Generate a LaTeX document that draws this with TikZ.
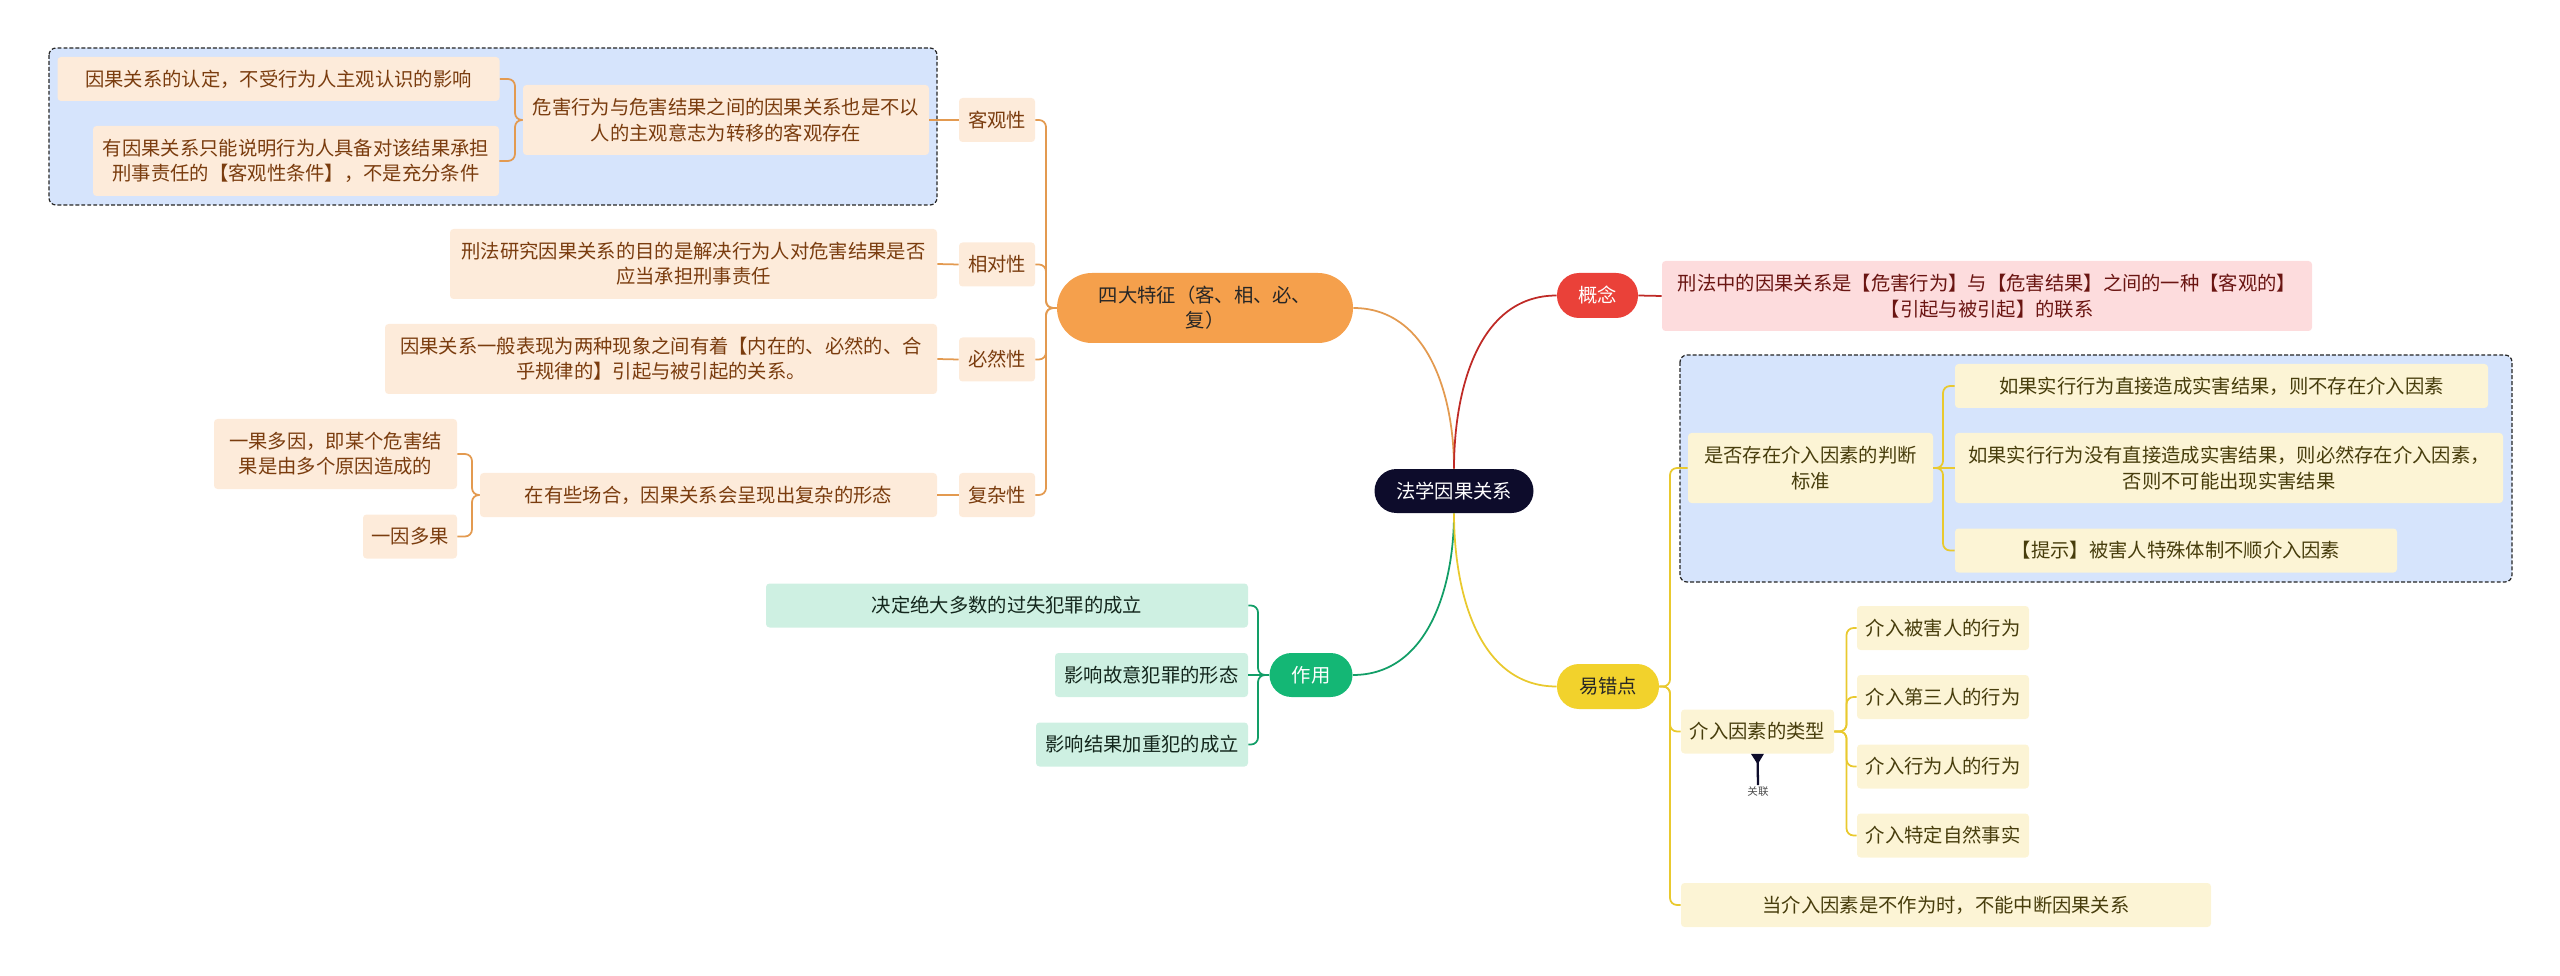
\documentclass[tikz,border=0pt]{standalone}
\usepackage{fontspec}
\setmainfont{Noto Sans CJK SC}
\usepackage{tikz}
\usetikzlibrary{arrows.meta,positioning}
\usepackage{xcolor}
\definecolor{rootnavy}{HTML}{0D0C2B}
\definecolor{tzorange}{HTML}{F5A04C}
\definecolor{tzline}{HTML}{E39A50}
\definecolor{peachbg}{HTML}{FDEBDA}
\definecolor{peachtext}{HTML}{7A3C0E}
\definecolor{gnred}{HTML}{EA4139}
\definecolor{gnline}{HTML}{BF2A26}
\definecolor{pinkbg}{HTML}{FDDCDD}
\definecolor{pinktext}{HTML}{6A1512}
\definecolor{zygreen}{HTML}{14B775}
\definecolor{zyline}{HTML}{129E67}
\definecolor{mintbg}{HTML}{CEF0E2}
\definecolor{minttext}{HTML}{13261C}
\definecolor{ycyellow}{HTML}{F2D22C}
\definecolor{ycline}{HTML}{E9C92E}
\definecolor{creambg}{HTML}{FCF4D5}
\definecolor{creamtext}{HTML}{473D0C}
\definecolor{grpblue}{HTML}{D6E4FC}
\begin{document}
\begin{tikzpicture}[>=Stealth, every node/.style={font=\fontsize{11}{14.4}\selectfont},
  leaf/.style={rounded corners=2pt, minimum height=0.88cm, inner xsep=3pt, align=center},
  tall/.style={minimum height=1.4cm},
  pill/.style={rounded corners=0.44cm, minimum height=0.88cm, inner xsep=6pt, align=center},
  kleaf/.style={leaf, fill=peachbg, text=peachtext},
  yleaf/.style={leaf, fill=creambg, text=creamtext},
  zleaf/.style={leaf, fill=mintbg, text=minttext},
  grp/.style={draw=black!85, line width=0.7pt, dash pattern=on 2.2pt off 1.2pt,
              rounded corners=4pt, fill=grpblue},
  conn/.style={line width=1pt},
  elbow/.style={line width=1pt, rounded corners=4pt}]
  \useasboundingbox (0,0) rectangle (51.2,-19.52);
  % Dashed frames (drawn first, behind)
  \draw[grp] (0.98,-0.96) rectangle (18.74,-4.10);
  \draw[grp] (33.6,-7.10) rectangle (50.24,-11.64);
  % Root and main branches
  \node[pill, fill=rootnavy, text=white, minimum width=3.18cm] (root) at (29.08,-9.82) {法学因果关系};
  \node[pill, fill=tzorange, text=black!85, rounded corners=0.7cm, minimum width=5.92cm, tall] (tz) at (24.10,-6.16) {四大特征（客、相、必、\\复）};
  \node[pill, fill=gnred, text=white, minimum width=1.62cm, minimum height=0.9cm] (gn) at (31.95,-5.91) {概念};
  \node[pill, fill=zygreen, text=white, minimum width=1.66cm] (zy) at (26.22,-13.50) {作用};
  \node[pill, fill=ycyellow, text=black!85, minimum width=2.04cm, minimum height=0.9cm] (yc) at (32.16,-13.73) {易错点};
  % Four features (left side)
  \node[kleaf, minimum width=1.52cm] (k1) at (19.94,-2.40) {客观性};
  \node[kleaf, minimum width=1.52cm] (k2) at (19.94,-5.29) {相对性};
  \node[kleaf, minimum width=1.52cm] (k3) at (19.94,-7.19) {必然性};
  \node[kleaf, minimum width=1.52cm] (k4) at (19.94,-9.90) {复杂性};
  \node[kleaf, tall, minimum width=8.12cm] (ka) at (14.52,-2.40) {危害行为与危害结果之间的因果关系也是不以\\人的主观意志为转移的客观存在};
  \node[kleaf, minimum width=8.84cm] (ka1) at (5.57,-1.58) {因果关系的认定，不受行为人主观认识的影响};
  \node[kleaf, tall, minimum width=8.12cm] (ka2) at (5.92,-3.22) {有因果关系只能说明行为人具备对该结果承担\\刑事责任的【客观性条件】，不是充分条件};
  \node[kleaf, tall, minimum width=9.74cm] (kb) at (13.87,-5.28) {刑法研究因果关系的目的是解决行为人对危害结果是否\\应当承担刑事责任};
  \node[kleaf, tall, minimum width=11.04cm] (kc) at (13.22,-7.18) {因果关系一般表现为两种现象之间有着【内在的、必然的、合\\乎规律的】引起与被引起的关系。};
  \node[kleaf, minimum width=9.14cm] (kd) at (14.17,-9.90) {在有些场合，因果关系会呈现出复杂的形态};
  \node[kleaf, tall, minimum width=4.86cm] (kd1) at (6.71,-9.08) {一果多因，即某个危害结\\果是由多个原因造成的};
  \node[kleaf, minimum width=1.88cm] (kd2) at (8.20,-10.73) {一因多果};
  % Concept
  \node[leaf, tall, fill=pinkbg, text=pinktext, minimum width=13.0cm] (gt) at (39.74,-5.92) {刑法中的因果关系是【危害行为】与【危害结果】之间的一种【客观的】\\【引起与被引起】的联系};
  % Common mistakes
  \node[yleaf, tall, minimum width=4.9cm] (pd) at (36.21,-9.36) {是否存在介入因素的判断\\标准};
  \node[yleaf, minimum width=10.66cm] (pd1) at (44.43,-7.72) {如果实行行为直接造成实害结果，则不存在介入因素};
  \node[yleaf, tall, minimum width=10.96cm] (pd2) at (44.58,-9.36) {如果实行行为没有直接造成实害结果，则必然存在介入因素，\\否则不可能出现实害结果};
  \node[yleaf, minimum width=8.84cm] (pd3) at (43.52,-11.01) {【提示】被害人特殊体制不顺介入因素};
  \node[yleaf, minimum width=3.06cm] (lx) at (35.15,-14.63) {介入因素的类型};
  \node[yleaf, minimum width=3.44cm] (lx1) at (38.86,-12.56) {介入被害人的行为};
  \node[yleaf, minimum width=3.44cm] (lx2) at (38.86,-13.94) {介入第三人的行为};
  \node[yleaf, minimum width=3.44cm] (lx3) at (38.86,-15.33) {介入行为人的行为};
  \node[yleaf, minimum width=3.44cm] (lx4) at (38.86,-16.71) {介入特定自然事实};
  \node[yleaf, minimum width=10.60cm] (bz) at (38.92,-18.10) {当介入因素是不作为时，不能中断因果关系};
  \node[font=\fontsize{6}{7}\selectfont, text=black!70, inner sep=1pt] (gl) at (35.16,-15.84) {关联};
  % Function
  \node[zleaf, minimum width=9.64cm] (zy1) at (20.14,-12.11) {决定绝大多数的过失犯罪的成立};
  \node[zleaf, minimum width=3.86cm] (zy2) at (23.03,-13.50) {影响故意犯罪的形态};
  \node[zleaf, minimum width=4.24cm] (zy3) at (22.84,-14.89) {影响结果加重犯的成立};
  % Root to main branches
  \draw[conn, tzline] (root.north) to[out=90,in=0] (tz.east);
  \draw[conn, gnline] (root.north) to[out=90,in=180] (gn.west);
  \draw[conn, zyline] (root.south) to[out=-90,in=0] (zy.east);
  \draw[conn, ycline] (root.south) to[out=-90,in=180] (yc.west);
  % Four features connectors
  \coordinate (tzj) at (20.92,-6.16);
  \draw[elbow, tzline] (tz.west) -- (tzj) |- (k1.east);
  \draw[elbow, tzline] (tz.west) -- (tzj) |- (k2.east);
  \draw[elbow, tzline] (tz.west) -- (tzj) |- (k3.east);
  \draw[elbow, tzline] (tz.west) -- (tzj) |- (k4.east);
  \draw[conn, tzline] (k1.west) -- (ka.east);
  \draw[conn, tzline] (k2.west) -- (kb.east);
  \draw[conn, tzline] (k3.west) -- (kc.east);
  \draw[conn, tzline] (k4.west) -- (kd.east);
  \coordinate (kaj) at (10.30,-2.40);
  \draw[elbow, tzline] (ka.west) -- (kaj) |- (ka1.east);
  \draw[elbow, tzline] (ka.west) -- (kaj) |- (ka2.east);
  \coordinate (kdj) at (9.44,-9.90);
  \draw[elbow, tzline] (kd.west) -- (kdj) |- (kd1.east);
  \draw[elbow, tzline] (kd.west) -- (kdj) |- (kd2.east);
  % Concept connector
  \draw[conn, gnline] (gn.east) -- (gt.west);
  % Function connectors
  \coordinate (zyj) at (25.16,-13.50);
  \draw[elbow, zyline] (zy.west) -- (zyj) |- (zy1.east);
  \draw[elbow, zyline] (zy.west) -- (zy2.east);
  \draw[elbow, zyline] (zy.west) -- (zyj) |- (zy3.east);
  % Common mistakes connectors
  \coordinate (ycj) at (33.40,-13.73);
  \draw[elbow, ycline] (yc.east) -- (ycj) |- (pd.west);
  \draw[elbow, ycline] (yc.east) -- (ycj) |- (lx.west);
  \draw[elbow, ycline] (yc.east) -- (ycj) |- (bz.west);
  \coordinate (pdj) at (38.86,-9.36);
  \draw[elbow, ycline] (pd.east) -- (pdj) |- (pd1.west);
  \draw[elbow, ycline] (pd.east) -- (pd2.west);
  \draw[elbow, ycline] (pd.east) -- (pdj) |- (pd3.west);
  \coordinate (lxj) at (36.93,-14.63);
  \draw[elbow, ycline] (lx.east) -- (lxj) |- (lx1.west);
  \draw[elbow, ycline] (lx.east) -- (lxj) |- (lx2.west);
  \draw[elbow, ycline] (lx.east) -- (lxj) |- (lx3.west);
  \draw[elbow, ycline] (lx.east) -- (lxj) |- (lx4.west);
  % Link label
  \draw[{Triangle[reversed, length=6pt, width=7pt]}-, line width=1.3pt, rootnavy] (lx.south) -- (gl.north);
\end{tikzpicture}
\end{document}
